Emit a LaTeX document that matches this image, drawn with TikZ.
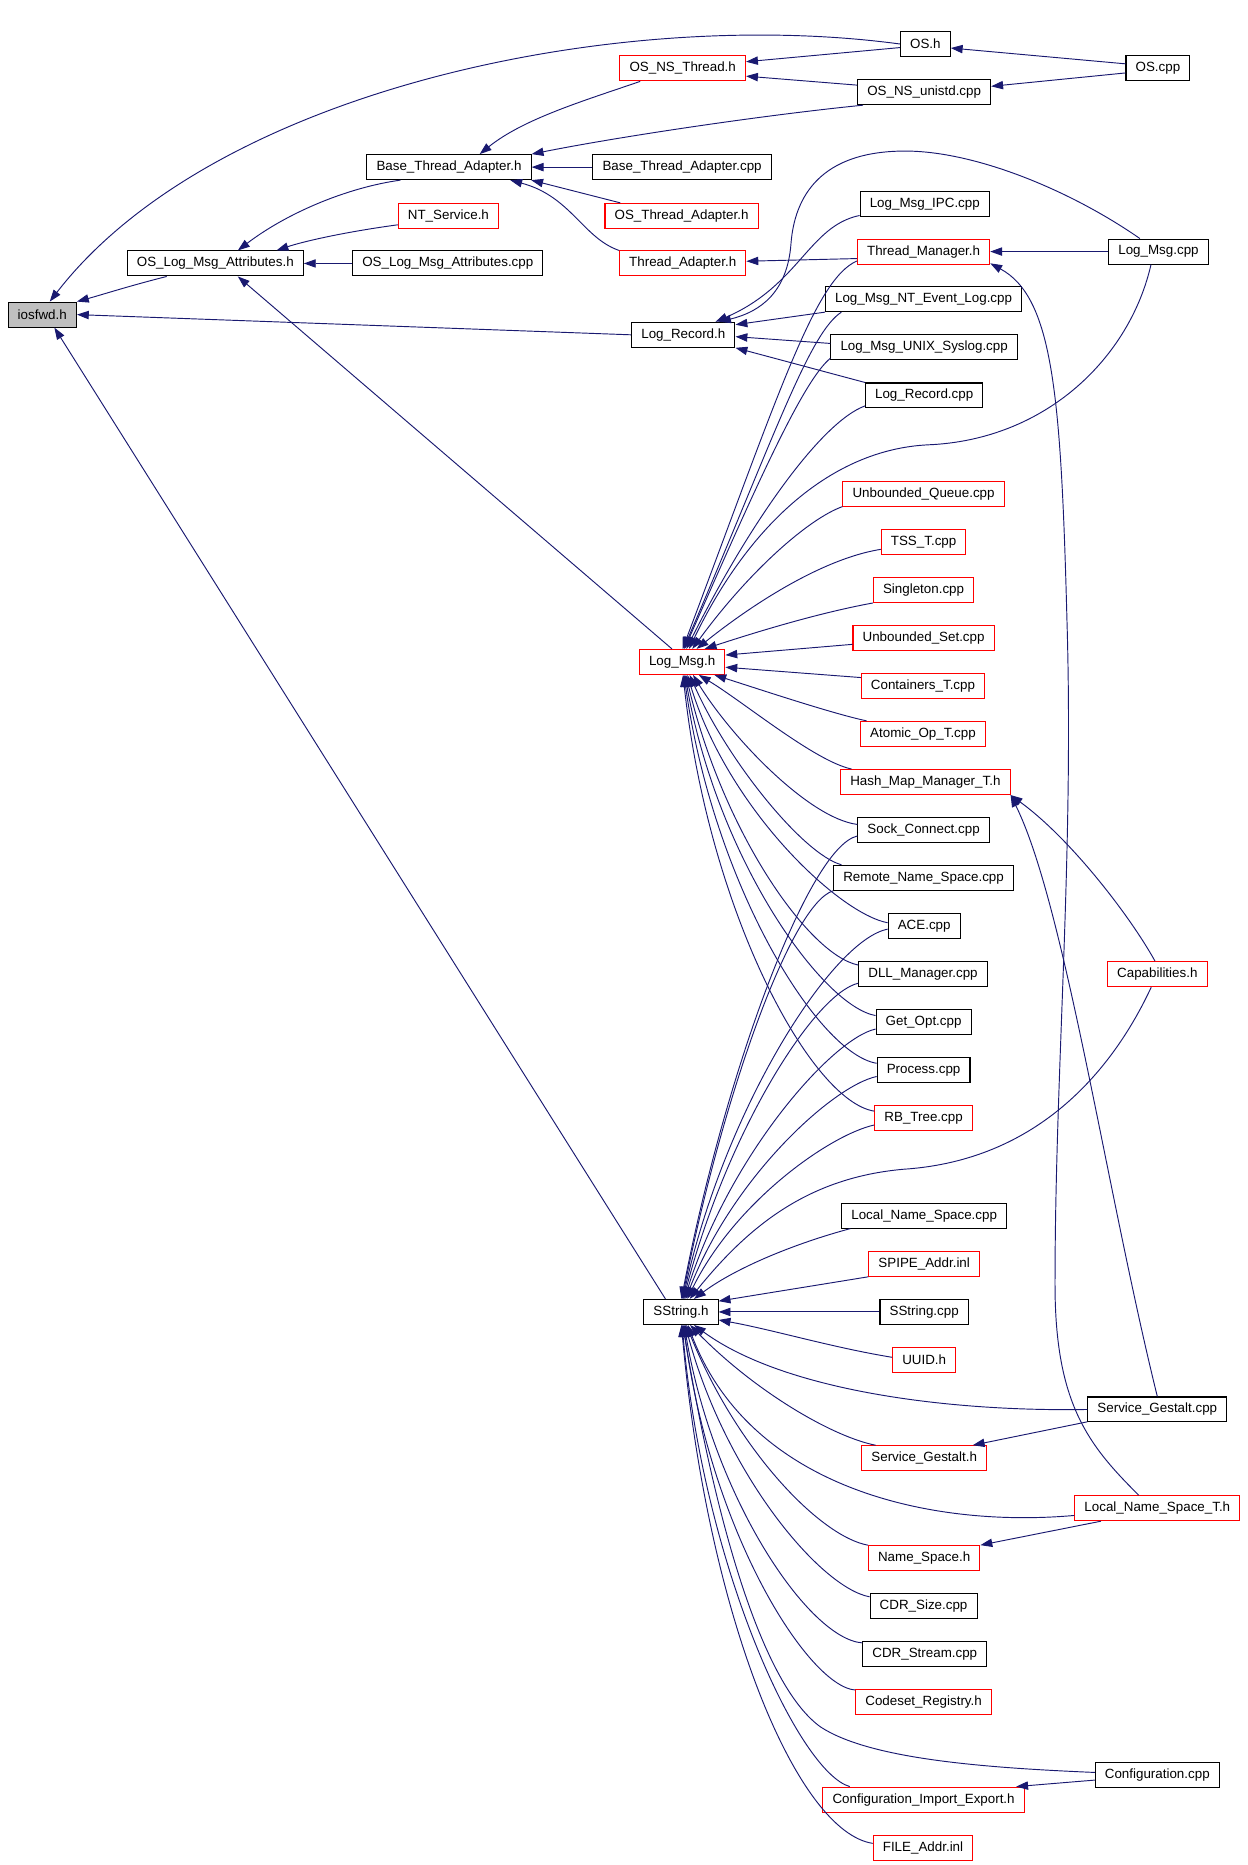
\documentclass[tikz,border=0pt]{standalone}
\usepackage{fontspec}
\setmainfont{Liberation Sans}
\usetikzlibrary{arrows.meta}
\definecolor{edgeblue}{HTML}{191970}

\begin{document}
\begin{tikzpicture}[
      x=0.02cm, y=-0.02cm,
      file_box/.style={
         rectangle,
         draw=black,
         fill=white,
         line width=0.5pt,
         inner xsep=4.6pt,
         inner ysep=0pt,
         minimum height=0.42cm,
         font=\fontsize{6.4}{7}\selectfont},
      file_red/.style={
         file_box,
         draw=red},
      file_root/.style={
         file_box,
         fill=black!25},
      arrow_inc/.style={
         -{Triangle[length=2mm,width=1.4mm]},
         draw=edgeblue,
         line width=0.45pt}
]
      \useasboundingbox (0,0) rectangle (1049,1568);

      %root
      \node[file_root] (iosfwd) at (35.5,264.5) {iosfwd.h};

      \node[file_box] (osattr) at (181,221.5) {OS\_Log\_Msg\_Attributes.h};
      \node[file_box] (bta) at (377.5,140.5) {Base\_Thread\_Adapter.h};
      \node[file_red] (ntsvc) at (377,181.5) {NT\_Service.h};
      \node[file_box] (osattrcpp) at (376.5,221.5) {OS\_Log\_Msg\_Attributes.cpp};

      \node[file_red] (nsthr) at (574,57.5) {OS\_NS\_Thread.h};
      \node[file_box] (btacpp) at (573.5,140.5) {Base\_Thread\_Adapter.cpp};
      \node[file_red] (osthradp) at (573,181.5) {OS\_Thread\_Adapter.h};
      \node[file_red] (thradp) at (574,221.5) {Thread\_Adapter.h};
      \node[file_box] (logrec) at (574.5,281.5) {Log\_Record.h};
      \node[file_red] (lmsg) at (573.5,556.5) {Log\_Msg.h};
      \node[file_box] (ss) at (572.5,1103) {SString.h};

      \node[file_box] (osh) at (778,37) {OS.h};
      \node[file_box] (nsunistd) at (777,77.5) {OS\_NS\_unistd.cpp};
      \node[file_box] (ipc) at (777.5,171.5) {Log\_Msg\_IPC.cpp};
      \node[file_red] (thrmgr) at (776.5,211.5) {Thread\_Manager.h};
      \node[file_box] (ntevt) at (776.5,251.5) {Log\_Msg\_NT\_Event\_Log.cpp};
      \node[file_box] (syslog) at (777,291.5) {Log\_Msg\_UNIX\_Syslog.cpp};
      \node[file_box] (logreccpp) at (777,332.5) {Log\_Record.cpp};
      \node[file_red] (ubq) at (776.5,415) {Unbounded\_Queue.cpp};
      \node[file_red] (tss) at (776.5,455.5) {TSS\_T.cpp};
      \node[file_red] (singleton) at (776.5,496) {Singleton.cpp};
      \node[file_red] (ubset) at (776.5,536.5) {Unbounded\_Set.cpp};
      \node[file_red] (contt) at (776,577) {Containers\_T.cpp};
      \node[file_red] (atomic) at (776,617) {Atomic\_Op\_T.cpp};
      \node[file_red] (hmm) at (778,657.5) {Hash\_Map\_Manager\_T.h};
      \node[file_box] (sock) at (776.5,698) {Sock\_Connect.cpp};
      \node[file_box] (rns) at (776.5,738) {Remote\_Name\_Space.cpp};
      \node[file_box] (ace) at (777,778.5) {ACE.cpp};
      \node[file_box] (dll) at (776,819) {DLL\_Manager.cpp};
      \node[file_box] (getopt) at (776.5,859.5) {Get\_Opt.cpp};
      \node[file_box] (process) at (776.5,899.5) {Process.cpp};
      \node[file_red] (rbtree) at (776.5,940) {RB\_Tree.cpp};
      \node[file_box] (lns) at (777,1022) {Local\_Name\_Space.cpp};
      \node[file_red] (spipe) at (777,1062.5) {SPIPE\_Addr.inl};
      \node[file_box] (sstrcpp) at (777,1103) {SString.cpp};
      \node[file_red] (uuid) at (777,1143.5) {UUID.h};
      \node[file_red] (sgh) at (777,1226) {Service\_Gestalt.h};
      \node[file_red] (nsh) at (777,1310) {Name\_Space.h};
      \node[file_box] (cdrsize) at (776.5,1350.5) {CDR\_Size.cpp};
      \node[file_box] (cdrstream) at (777.5,1390.5) {CDR\_Stream.cpp};
      \node[file_red] (codeset) at (776.5,1431) {Codeset\_Registry.h};
      \node[file_red] (confie) at (776.5,1513) {Configuration\_Import\_Export.h};
      \node[file_red] (fileaddr) at (776,1553.5) {FILE\_Addr.inl};

      \node[file_box] (oscpp) at (973.5,57.5) {OS.cpp};
      \node[file_box] (logmsgcpp) at (974,211.5) {Log\_Msg.cpp};
      \node[file_red] (caps) at (973,819) {Capabilities.h};
      \node[file_box] (sgcpp) at (973,1185) {Service\_Gestalt.cpp};
      \node[file_red] (lnst) at (973,1268) {Local\_Name\_Space\_T.h};
      \node[file_box] (confcpp) at (973,1492) {Configuration.cpp};

    \foreach \i/\j in {% start node/end node
      logrec.west/iosfwd.east,
      ss.140/iosfwd.-47,
      lmsg.128/osattr.-30,
      osattrcpp.west/osattr.east,
      btacpp.west/bta.east,
      osthradp.168/bta.-9,
      osh.188/nsthr.6,
      nsunistd.174/nsthr.-7,
      oscpp.172/osh.-9,
      oscpp.188/nsunistd.5,
      thrmgr.186/thradp.2,
      logmsgcpp.west/thrmgr.east,
      ntevt.south west/logrec.11,
      syslog.178/logrec.-2,
      logreccpp.north west/logrec.south east,
      ubset.185/lmsg.9,
      contt.172/lmsg.-7,
      sstrcpp.west/ss.east,
      sgcpp.190/sgh.15,
      lnst.193/nsh.north east,
      confcpp.185/confie.8}
    \draw[arrow_inc] (\i) -- (\j);

    \foreach \i/\p/\q/\j in {% start node/control/control/end node
      osh.west/{520,5}/{180,75}/iosfwd.60,
      osattr.195/{110,240}/{85,248}/iosfwd.north east,
      bta.195/{290,158}/{240,180}/osattr.30,
      ntsvc.190/{290,195}/{255,203}/osattr.12,
      nsthr.197/{490,85}/{440,100}/bta.23,
      nsunistd.192/{640,97}/{520,115}/bta.north east,
      thradp.north west/{490,200}/{480,165}/bta.-12,
      ipc.190/{680,190}/{672,240}/logrec.22,
      thrmgr.188/{685,235}/{655,330}/lmsg.88,
      ntevt.189/{680,280}/{650,370}/lmsg.84,
      syslog.187/{675,320}/{635,410}/lmsg.80,
      logreccpp.190/{690,355}/{630,440}/lmsg.72,
      ubq.south west/{680,436}/{630,480}/lmsg.52,
      tss.190/{690,470}/{630,510}/lmsg.42,
      singleton.south west/{690,515}/{640,530}/lmsg.30,
      atomic.167/{700,600}/{640,580}/lmsg.-22,
      hmm.170/{685,640}/{625,590}/lmsg.-38,
      sock.175/{680,688}/{615,620}/lmsg.-50,
      rns.171/{675,718}/{612,640}/lmsg.-60,
      ace.175/{705,768}/{612,680}/lmsg.-68,
      dll.172/{680,803}/{608,700}/lmsg.-74,
      getopt.172/{692,846}/{604,725}/lmsg.-78,
      process.172/{688,886}/{600,745}/lmsg.-82,
      rbtree.172/{682,926}/{596,768}/lmsg.-86,
      sock.185/{680,712}/{610,900}/ss.88,
      rns.south west/{665,760}/{608,920}/ss.85,
      ace.185/{700,790}/{610,930}/ss.82,
      dll.188/{685,835}/{612,950}/ss.79,
      getopt.188/{700,873}/{614,970}/ss.75,
      process.188/{700,913}/{616,990}/ss.70,
      rbtree.188/{698,954}/{618,1010}/ss.64,
      lns.190/{670,1045}/{620,1065}/ss.45,
      spipe.south west/{690,1080}/{640,1088}/ss.16,
      uuid.175/{700,1133}/{650,1118}/ss.-12,
      sgcpp.west/{800,1187}/{660,1170}/ss.-45,
      sgh.165/{700,1208}/{635,1170}/ss.-55,
      lnst.185/{780,1285}/{630,1250}/ss.-62,
      nsh.167/{690,1292}/{620,1220}/ss.-68,
      cdrsize.170/{690,1335}/{610,1240}/ss.-72,
      cdrstream.170/{680,1378}/{600,1260}/ss.-76,
      codeset.170/{680,1418}/{598,1290}/ss.-79,
      confie.170/{672,1490}/{592,1320}/ss.-85,
      fileaddr.175/{670,1540}/{595,1360}/ss.-88,
      caps.100/{950,770}/{900,705}/hmm.south east,
      sgcpp.north/{930,1000}/{895,760}/hmm.south east}
    \draw[arrow_inc] (\i) .. controls (\p) and (\q) .. (\j);

    % long routes
    \draw[arrow_inc] (logmsgcpp.145) .. controls (900,160) and (820,127) .. (761,127)
       .. controls (690,127) and (668,165) .. (665,205)
       .. controls (662,245) and (640,262) .. (logrec.20);
    \draw[arrow_inc] (logmsgcpp.-120) .. controls (950,300) and (880,370) .. (780,374)
       .. controls (700,378) and (630,440) .. (lmsg.62);
    \draw[arrow_inc] (caps.-115) .. controls (940,890) and (880,975) .. (760,983)
       .. controls (680,990) and (630,1030) .. (ss.56);
    \draw[arrow_inc] (confcpp.178) .. controls (820,1486) and (730,1478) .. (690,1452)
       .. controls (645,1420) and (605,1300) .. (ss.-82);
    \draw[arrow_inc] (lnst.145) .. controls (915,1215) and (887,1180) .. (887,1080)
       .. controls (887,900) and (903,720) .. (897,520)
       .. controls (892,330) and (885,250) .. (thrmgr.-10);

\end{tikzpicture}
\end{document}
